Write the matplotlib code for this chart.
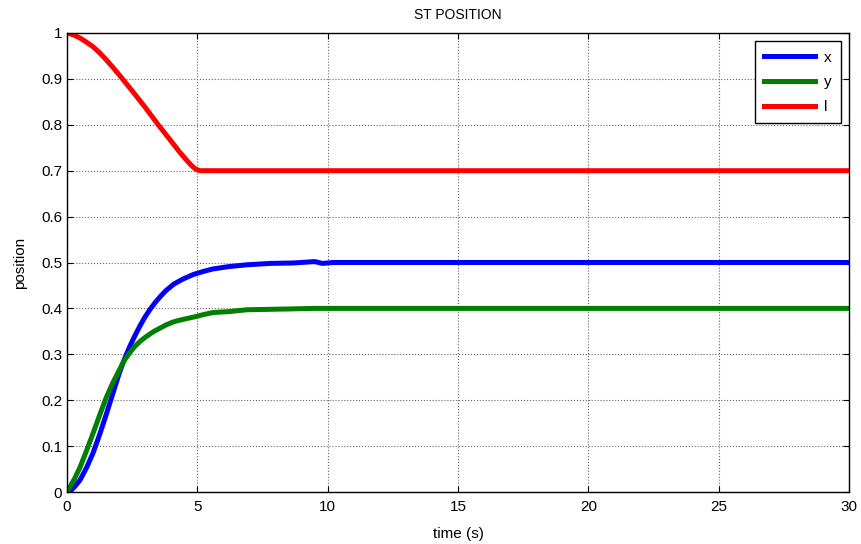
import matplotlib
matplotlib.use("Agg")
import matplotlib.pyplot as plt

plt.rcParams['font.family'] = ['Liberation Sans', 'DejaVu Sans']

t_xy = [0.0, 0.1, 0.3, 0.5, 0.75, 1.0, 1.25, 1.5, 1.75, 2.0, 2.2, 2.4, 2.6, 2.8, 3.0, 3.2, 3.4, 3.6, 3.8, 4.1, 4.45, 4.85, 5.2, 5.6, 6.2, 6.9, 7.8, 8.7, 9.5, 9.8, 10.2, 30.0]
x_pos = [0.0, 0.0, 0.012, 0.026, 0.053, 0.085, 0.125, 0.168, 0.213, 0.258, 0.289, 0.316, 0.34, 0.362, 0.382, 0.399, 0.414, 0.427, 0.439, 0.453, 0.464, 0.474, 0.48, 0.486, 0.491, 0.495, 0.498, 0.499, 0.502, 0.498, 0.5, 0.5]
y_pos = [0.0, 0.01, 0.03, 0.054, 0.09, 0.128, 0.167, 0.205, 0.237, 0.265, 0.287, 0.303, 0.317, 0.328, 0.337, 0.345, 0.352, 0.358, 0.364, 0.371, 0.376, 0.381, 0.386, 0.391, 0.393, 0.397, 0.398, 0.399, 0.4, 0.4, 0.4, 0.4]

t_l = [0.0, 0.25, 0.5, 0.75, 1.0, 1.25, 1.5, 1.75, 2.0, 2.5, 3.0, 3.5, 4.0, 4.3, 4.6, 4.8, 4.95, 5.1, 30.0]
l_pos = [1.0, 0.996, 0.989, 0.98, 0.97, 0.957, 0.942, 0.926, 0.909, 0.874, 0.838, 0.8, 0.764, 0.742, 0.722, 0.71, 0.703, 0.7, 0.7]

x_ticks = [0, 5, 10, 15, 20, 25, 30]
y_ticks = [0, 0.1, 0.2, 0.3, 0.4, 0.5, 0.6, 0.7, 0.8, 0.9, 1]
y_tick_labels = ["0", "0.1", "0.2", "0.3", "0.4", "0.5", "0.6", "0.7", "0.8", "0.9", "1"]

fig = plt.figure(figsize=(8.61, 5.44), dpi=100)
ax = fig.add_axes([67/861, 1-492/544, (849-67)/861, (492-33)/544])

ax.plot(t_xy, x_pos, color=(0, 0, 1), lw=3.6, label='x')
ax.plot(t_xy, y_pos, color=(0, 0.5, 0), lw=3.6, label='y')
ax.plot(t_l, l_pos, color=(1, 0, 0), lw=3.6, label='l')

ax.set_xlim(0, 30)
ax.set_ylim(0, 1)
ax.set_xticks(x_ticks)
ax.set_yticks(y_ticks)
ax.set_yticklabels(y_tick_labels)
ax.tick_params(direction='in', top=True, right=True, labelsize=11, length=4, width=0.8)
ax.tick_params(axis='x', pad=6)
ax.grid(True, linestyle=':', color='#666666', linewidth=0.8)
for s in ax.spines.values():
    s.set_linewidth(1.0)

ax.set_title('ST POSITION', fontsize=10, pad=10)
ax.set_xlabel('time (s)', fontsize=11, labelpad=9)
ax.set_ylabel('position', fontsize=11, labelpad=10)

leg = ax.legend(loc='upper right', fontsize=11, handlelength=3.3, fancybox=False,
                edgecolor='black', framealpha=1, borderaxespad=0.55, labelspacing=0.7,
                borderpad=0.6, handletextpad=0.6)
leg.get_frame().set_linewidth(1.0)

fig.savefig('out.png', dpi=100)
